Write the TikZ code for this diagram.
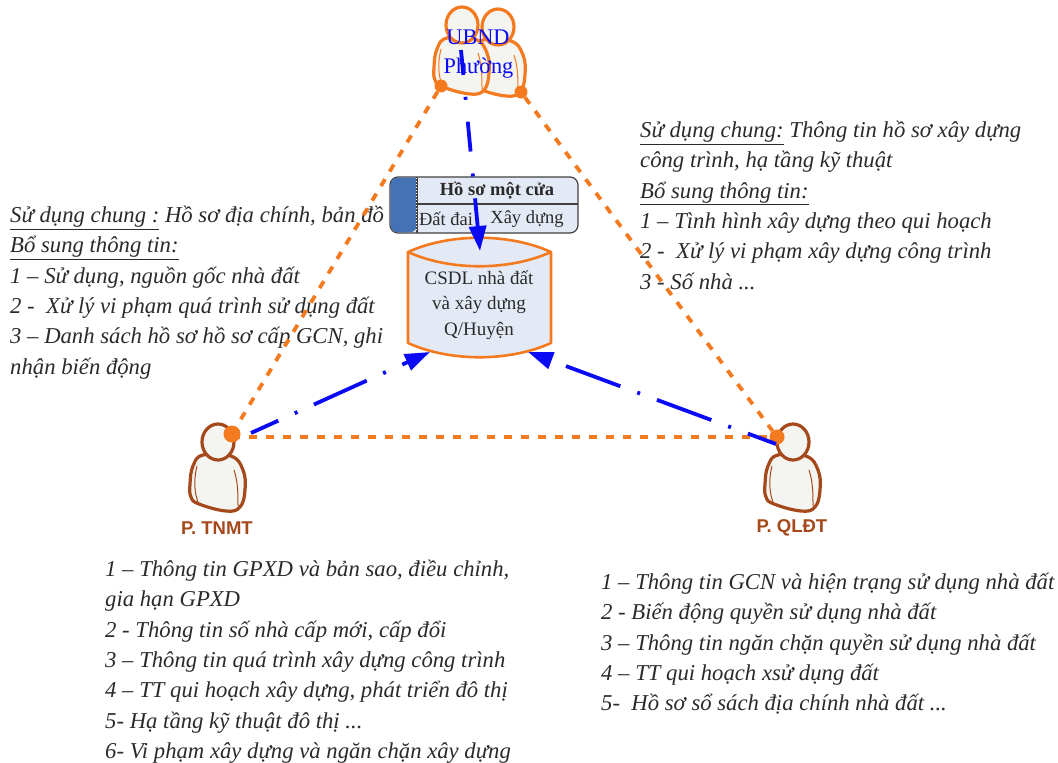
\documentclass[tikz,border=0pt]{standalone}
\usepackage{fontspec}
\setmainfont{Liberation Serif}
\setsansfont{Liberation Sans}
\usetikzlibrary{arrows.meta}
\definecolor{orng}{HTML}{F47A1F}
\definecolor{brwn}{HTML}{A5481C}
\definecolor{bluex}{HTML}{0A0AF5}
\definecolor{boxfill}{HTML}{E4EAF5}
\definecolor{boxblue}{HTML}{4472B4}
\definecolor{txt}{HTML}{2A2A2A}
\definecolor{personfill}{HTML}{F4F4F0}
\tikzset{
  notes/.style={anchor=north west,inner sep=0pt,align=left,text=txt,font=\fontsize{22.7}{30.3}\selectfont\itshape},
  persona/.style={line width=3.2pt,fill=personfill,line join=round},
  dotn/.style={circle,fill=orng,draw=none,inner sep=0pt,minimum size=#1},
  orangelink/.style={orng,line width=3.8pt,dash pattern=on 8pt off 9pt},
  bluelink/.style={bluex,line width=3.8pt,-{Triangle[length=25pt,width=17pt]}},
  longdash/.style={dash pattern=on 58pt off 18pt on 3pt off 18pt,dash phase=28pt},
  shortdash/.style={dash pattern=on 30pt off 22pt on 3pt off 22pt,dash phase=5pt},
  ptlabel/.style={font=\sffamily\bfseries\fontsize{18.5}{20}\selectfont,text=brwn,inner sep=0pt},
  ubnd/.style={text=bluex,font=\fontsize{22.3}{24}\selectfont,inner sep=0pt},
  person/.pic={
    \path[pic actions,persona] plot[smooth cycle,tension=0.7] coordinates {(-15,13) (-25,24) (-28,42) (-27,55) (-19,62) (8,69) (22,65) (27,48) (25,28) (13,14)};
    \path[pic actions,line width=1pt] (-21,24) .. controls (-25,40) and (-23,52) .. (-20,60);
    \path[pic actions,line width=1pt] (16,28) .. controls (20,40) and (20,52) .. (20,64);
    \path[pic actions,persona] (0,0) ellipse [x radius=16,y radius=18];
  }
}
\begin{document}
\begin{tikzpicture}[x=1pt,y=-1pt]
\useasboundingbox (0,0) rectangle (1058,763);
% people
\pic[draw=orng] at (498,27) {person};
\pic[draw=orng] at (462,25) {person};
\pic[draw=brwn] at (218,442) {person};
\pic[draw=brwn] at (793,442) {person};
\node[dotn=13pt] (ul) at (441,86) {};
\node[dotn=13pt] (ur) at (521,92) {};
\node[dotn=17pt] (tn) at (232,434) {};
\node[dotn=15pt] (ql) at (777,437) {};
\node[ptlabel] (ptnmt) at (217,528) {P. TNMT};
\node[ptlabel] (pqldt) at (792,528) {P. QLĐT};
\node[ubnd] (ub1) at (478,37) {UBND};
\node[ubnd] (ub2) at (478.5,68) {Phường};
% one-stop box
\draw[fill=boxfill,draw=black!75,line width=1.2pt,rounded corners=8pt] (390,177) rectangle (578,233);
\fill[boxblue] (417,177.6) [rounded corners=7.4pt] -- (390.6,177.6) -- (390.6,232.4) -- (417,232.4) [sharp corners] -- cycle;
\draw[black!75,line width=1.2pt] (417,177) -- (417,233);
\draw[white,line width=1pt,dotted] (416,178) -- (416,232);
\draw[black!75,line width=1.2pt] (417,204) -- (578,204);
\node[inner sep=0pt,font=\bfseries\fontsize{18.5}{20}\selectfont,text=txt] (b1) at (497,191) {Hồ sơ một cửa};
\node[inner sep=0pt,font=\fontsize{18.5}{20}\selectfont,text=txt] (b2) at (446,219) {Đất đai};
\node[inner sep=0pt,font=\fontsize{18.5}{20}\selectfont,text=txt] (b3) at (527,219) {Xây dựng};
% cylinder
\draw[fill=boxfill,draw=orng,line width=2.6pt,line join=round] (408,252) .. controls (450,233) and (509,233) .. (551,252) -- (551,343) .. controls (509,362) and (450,362) .. (408,343) -- cycle;
\draw[orng,line width=2.6pt] (408,252) .. controls (450,271) and (509,271) .. (551,252);
\node[inner sep=0pt,align=center,text=txt,font=\fontsize{19}{25.5}\selectfont] (db) at (479,305) {CSDL nhà đất\\và xây dựng\\Q/Huyện};
\coordinate (dbtop) at (480,251);
\coordinate (dbl) at (430,352);
\coordinate (dbr) at (528,352);
\coordinate (ubs) at (461,50);
\coordinate (tns) at (251,433);
\coordinate (qls) at (776,444);
% notes
\node[notes] (n1) at (10,206) {\underline{Sử dụng chung :} Hồ sơ địa chính, bản đồ\\\underline{Bổ sung thông tin:}\\1 – Sử dụng, nguồn gốc nhà đất\\2 -\ \ Xử lý vi phạm quá trình sử dụng đất\\3 – Danh sách hồ sơ hồ sơ cấp GCN, ghi\\nhận biến động};
\node[notes] (n2) at (640,121) {\underline{Sử dụng chung:} Thông tin hồ sơ xây dựng\\công trình, hạ tầng kỹ thuật\\\underline{Bổ sung thông tin:}\\1 – Tình hình xây dựng theo qui hoạch\\2 -\ \ Xử lý vi phạm xây dựng công trình\\3 - Số nhà ...};
\node[notes] (n3) at (105,560) {1 – Thông tin GPXD và bản sao, điều chỉnh,\\gia hạn GPXD\\2 - Thông tin số nhà cấp mới, cấp đổi\\3 – Thông tin quá trình xây dựng công trình\\4 – TT qui hoạch xây dựng, phát triển đô thị\\5- Hạ tầng kỹ thuật đô thị ...\\6- Vi phạm xây dựng và ngăn chặn xây dựng};
\node[notes] (n4) at (601,573) {1 – Thông tin GCN và hiện trạng sử dụng nhà đất\\2 - Biến động quyền sử dụng nhà đất\\3 – Thông tin ngăn chặn quyền sử dụng nhà đất\\4 – TT qui hoạch xsử dụng đất\\5-\ \ Hồ sơ sổ sách địa chính nhà đất ...};
% connectors
\draw[orangelink] (ul) -- (tn);
\draw[orangelink] (ur) -- (ql);
\draw[orangelink] ([yshift=-3pt]tn.center) -- (ql);
\draw[bluelink,shortdash] (ubs) -- (dbtop);
\draw[bluelink,longdash] (tns) -- (dbl);
\draw[bluelink,longdash] (qls) -- (dbr);
\end{tikzpicture}
\end{document}
